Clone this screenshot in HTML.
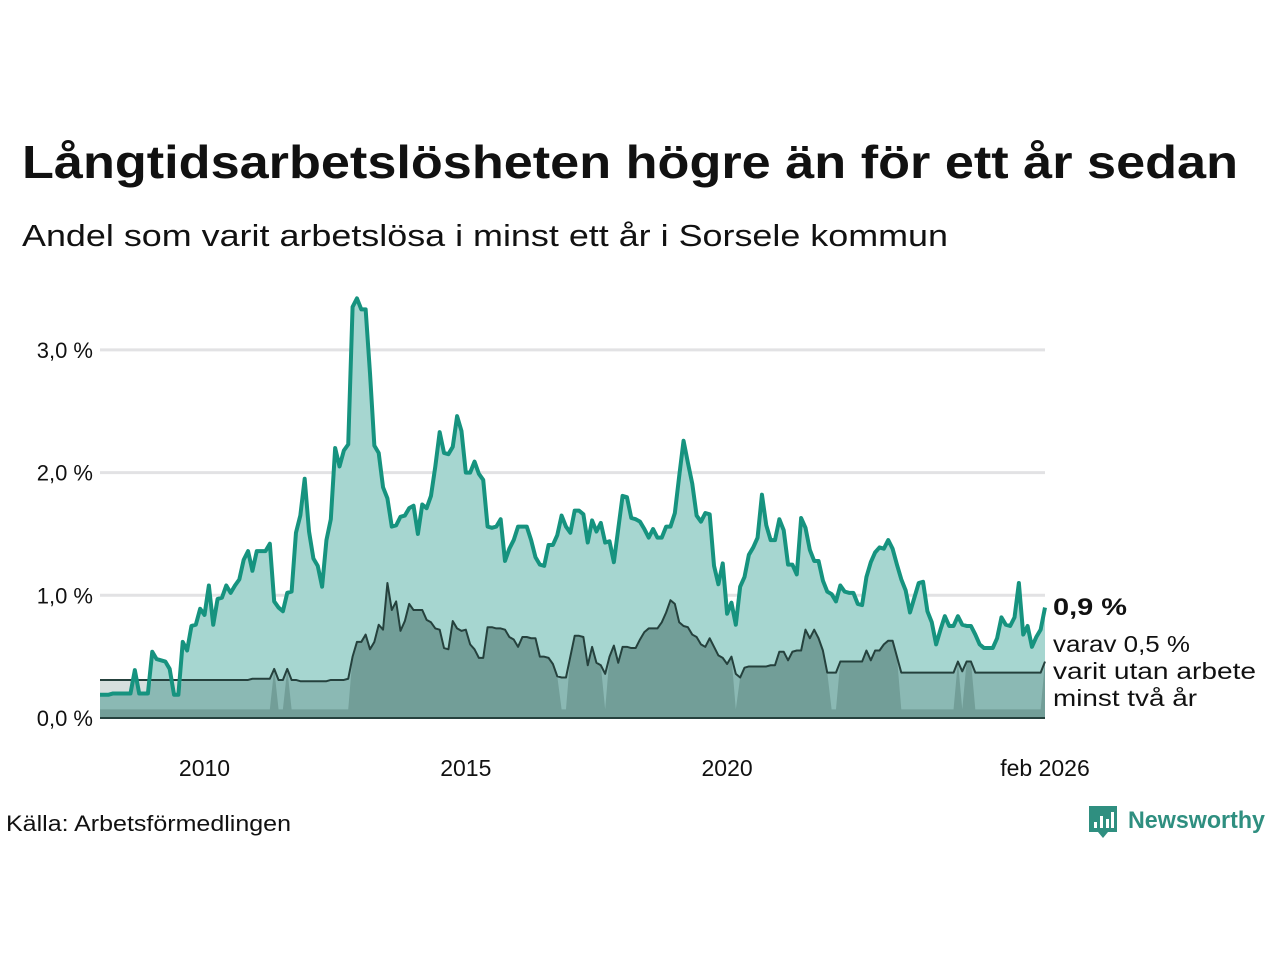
<!DOCTYPE html>
<html><head><meta charset="utf-8"><style>
body{margin:0;background:#fff;}
svg{display:block;font-family:"Liberation Sans",sans-serif;}
</style></head><body>
<svg id="chart" width="1280" height="960" viewBox="0 0 1280 960">
<text x="22" y="178" font-size="46" font-weight="bold" fill="#111" textLength="1216" lengthAdjust="spacingAndGlyphs">Långtidsarbetslösheten högre än för ett år sedan</text>
<text x="22" y="246" font-size="31" fill="#111" textLength="926" lengthAdjust="spacingAndGlyphs">Andel som varit arbetslösa i minst ett år i Sorsele kommun</text>
<g id="grid"></g>
<g id="marks"></g>
<g id="yticks"></g>
<g id="xticks"></g>
<text x="1053" y="615" font-size="24" font-weight="bold" fill="#111" textLength="74" lengthAdjust="spacingAndGlyphs">0,9 %</text>
<text x="1053" y="652" font-size="23" fill="#111" textLength="137" lengthAdjust="spacingAndGlyphs">varav 0,5 %</text>
<text x="1053" y="679" font-size="23" fill="#111" textLength="203" lengthAdjust="spacingAndGlyphs">varit utan arbete</text>
<text x="1053" y="706" font-size="23" fill="#111" textLength="144" lengthAdjust="spacingAndGlyphs">minst två år</text>
<text x="6" y="831" font-size="22" fill="#111" textLength="285" lengthAdjust="spacingAndGlyphs">Källa: Arbetsförmedlingen</text>
<g>
<path d="M1089 806 h28 v26 h-9 l-5 6 l-5 -6 h-9 z" fill="#2f8f80"/>
<rect x="1094" y="822" width="3" height="6" fill="#fff"/><rect x="1100" y="816" width="3" height="12" fill="#fff"/><rect x="1106" y="819" width="3" height="9" fill="#fff"/><rect x="1111" y="812" width="3" height="16" fill="#fff"/>
<text x="1128" y="828" font-size="24" font-weight="bold" fill="#2f8f80" textLength="137" lengthAdjust="spacingAndGlyphs">Newsworthy</text>
</g>
</svg>
<script>
const totalShare = [0.19,0.19,0.19,0.2,0.2,0.2,0.2,0.2,0.39,0.2,0.2,0.2,0.54,0.48,0.47,0.46,0.4,0.19,0.19,0.62,0.55,0.75,0.76,0.89,0.84,1.08,0.76,0.97,0.98,1.08,1.02,1.08,1.13,1.29,1.36,1.2,1.36,1.36,1.36,1.42,0.95,0.9,0.87,1.02,1.03,1.51,1.65,1.95,1.52,1.3,1.24,1.07,1.45,1.62,2.2,2.05,2.18,2.23,3.35,3.42,3.33,3.33,2.81,2.22,2.16,1.88,1.79,1.56,1.57,1.64,1.65,1.71,1.73,1.5,1.74,1.71,1.81,2.05,2.33,2.16,2.15,2.21,2.46,2.34,2.0,2.0,2.09,1.99,1.94,1.56,1.55,1.56,1.62,1.28,1.38,1.45,1.56,1.56,1.56,1.45,1.31,1.25,1.24,1.41,1.41,1.49,1.65,1.56,1.51,1.69,1.69,1.66,1.43,1.61,1.52,1.59,1.43,1.44,1.27,1.54,1.81,1.8,1.63,1.62,1.6,1.54,1.47,1.54,1.47,1.47,1.56,1.56,1.67,1.97,2.26,2.08,1.91,1.65,1.6,1.67,1.66,1.24,1.09,1.26,0.85,0.94,0.76,1.07,1.15,1.33,1.39,1.47,1.82,1.57,1.45,1.45,1.62,1.53,1.25,1.25,1.17,1.63,1.55,1.37,1.28,1.28,1.12,1.03,1.01,0.95,1.08,1.03,1.02,1.02,0.93,0.92,1.15,1.27,1.35,1.39,1.38,1.45,1.38,1.25,1.13,1.04,0.86,0.98,1.1,1.11,0.87,0.78,0.6,0.72,0.83,0.75,0.75,0.83,0.76,0.75,0.75,0.68,0.6,0.57,0.57,0.57,0.65,0.82,0.76,0.75,0.82,1.1,0.68,0.75,0.58,0.66,0.72,0.9];
const twoYearShare = [0.31,0.31,0.31,0.31,0.31,0.31,0.31,0.31,0.31,0.31,0.31,0.31,0.31,0.31,0.31,0.31,0.31,0.31,0.31,0.31,0.31,0.31,0.31,0.31,0.31,0.31,0.31,0.31,0.31,0.31,0.31,0.31,0.31,0.31,0.31,0.32,0.32,0.32,0.32,0.32,0.4,0.31,0.31,0.4,0.31,0.31,0.3,0.3,0.3,0.3,0.3,0.3,0.3,0.31,0.31,0.31,0.31,0.32,0.5,0.62,0.62,0.68,0.56,0.62,0.76,0.72,1.1,0.88,0.95,0.71,0.79,0.93,0.88,0.88,0.88,0.8,0.78,0.73,0.72,0.57,0.56,0.79,0.73,0.71,0.72,0.6,0.56,0.49,0.49,0.74,0.74,0.73,0.73,0.72,0.66,0.64,0.58,0.66,0.66,0.65,0.65,0.5,0.5,0.49,0.44,0.34,0.33,0.33,0.5,0.67,0.67,0.66,0.43,0.58,0.45,0.43,0.36,0.5,0.59,0.45,0.58,0.58,0.57,0.57,0.64,0.7,0.73,0.73,0.73,0.78,0.86,0.96,0.93,0.78,0.75,0.74,0.68,0.66,0.6,0.58,0.65,0.58,0.51,0.49,0.44,0.5,0.36,0.33,0.41,0.42,0.42,0.42,0.42,0.42,0.43,0.43,0.54,0.54,0.47,0.54,0.55,0.55,0.72,0.65,0.72,0.65,0.55,0.37,0.37,0.37,0.46,0.46,0.46,0.46,0.46,0.46,0.55,0.47,0.55,0.55,0.6,0.63,0.63,0.5,0.37,0.37,0.37,0.37,0.37,0.37,0.37,0.37,0.37,0.37,0.37,0.37,0.37,0.46,0.38,0.46,0.46,0.37,0.37,0.37,0.37,0.37,0.37,0.37,0.37,0.37,0.37,0.37,0.37,0.37,0.37,0.37,0.37,0.46];
const missingMonths = [0,1,2,3,4,5,6,7,8,9,10,11,12,13,14,15,16,17,18,19,20,21,22,23,24,25,26,27,28,29,30,31,32,33,34,35,36,37,38,39,41,42,44,45,46,47,48,49,50,51,52,53,54,55,56,57,106,107,116,146,168,169,184,185,186,187,188,189,190,191,192,193,194,195,196,198,201,202,203,204,205,206,207,208,209,210,211,212,213,214,215,216];
const baseShare = 0.07;
const yTicks = [0,1,2,3];
const yTickLabels = ["0,0 %","1,0 %","2,0 %","3,0 %"];
const xTickMonths = [24,84,144,217];
const xTickLabels = ["2010","2015","2020","feb 2026"];

const NS="http://www.w3.org/2000/svg";
const X0=100,X1=1045,Y0=718,PX=122.7;
const n=totalShare.length;
const x=i=>X0+i*(X1-X0)/(n-1);
const y=v=>Y0-v*PX;
function mk(tag,attrs,parent){const e=document.createElementNS(NS,tag);for(const k in attrs)e.setAttribute(k,attrs[k]);parent.appendChild(e);return e;}
const grid=document.getElementById('grid'),marks=document.getElementById('marks'),yt=document.getElementById('yticks'),xt=document.getElementById('xticks');
yTicks.forEach((t,k)=>{
  if(t>0){const g=mk('line',{x1:X0,x2:X1,y1:y(t),y2:y(t),stroke:'#e2e2e4','stroke-width':3},grid);
  
  }
  const l=mk('text',{x:93,y:y(t)+8,'font-size':22,'text-anchor':'end',fill:'#111'},yt);
  l.textContent=yTickLabels[k];
  
  
});
xTickMonths.forEach((m,k)=>{
  const l=mk('text',{x:x(m),y:776,'font-size':23,'text-anchor':'middle',fill:'#111'},xt);
  l.textContent=xTickLabels[k];
  
  
});
function area(vals,fill,name){
  let d='M'+x(0)+','+Y0;vals.forEach((v,i)=>d+=' L'+x(i).toFixed(2)+','+y(v).toFixed(2));d+=' L'+x(n-1)+','+Y0+' Z';
  const p=mk('path',{d:d,fill:fill},marks);
  
  
}
function line(vals,stroke,w,name){
  let d='';vals.forEach((v,i)=>d+=(i?' L':'M')+x(i).toFixed(2)+','+y(v).toFixed(2));
  const p=mk('path',{d:d,fill:'none',stroke:stroke,'stroke-width':w,'stroke-linejoin':'round'},marks);
  
  
}
area(twoYearShare.map((v,i)=>Math.max(v,totalShare[i])),'#d6dfde','gap-area');
area(totalShare,'#a6d6d0','total-area');
area(twoYearShare.map((v,i)=>Math.min(v,totalShare[i])),'#8bb9b4','two-year-band');
const fillVals=twoYearShare.map((v,i)=>missingMonths.includes(i)?baseShare:v);
area(fillVals,'#729e98','two-year-area');
line(twoYearShare,'#25413d',2,'two-year-line');
line(totalShare,'#16937f',4,'total-line');
const ax=mk('line',{x1:X0,x2:X1,y1:Y0,y2:Y0,stroke:'#25413d','stroke-width':2},marks);


</script>
</body></html>
